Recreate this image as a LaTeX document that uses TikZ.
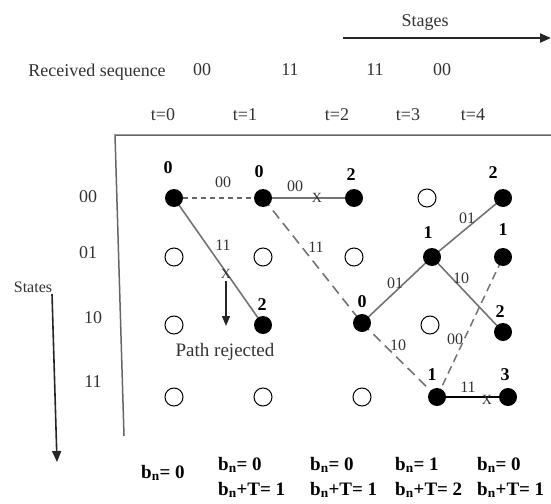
\documentclass[tikz,border=0pt]{standalone}
\usepackage{fontspec}
\setmainfont{Liberation Serif}
\usetikzlibrary{arrows.meta}
\begin{document}
\begin{tikzpicture}[x=1pt,y=-1pt,
  filled/.style={circle,fill=black,minimum size=18pt,inner sep=0pt},
  hollow/.style={circle,draw=black,line width=1pt,minimum size=18pt,inner sep=0pt,fill=white},
  txt/.style={font=\fontsize{18}{20}\selectfont,text=black!80},
  elab/.style={font=\fontsize{16}{18}\selectfont,text=black!80,inner sep=1pt},
  xmark/.style={font=\fontsize{14}{16}\selectfont,text=black!80,inner sep=0pt},
  nlab/.style={font=\bfseries\fontsize{18}{20}\selectfont},
  blab/.style={font=\bfseries\fontsize{19}{21}\selectfont,anchor=west,inner sep=0pt},
  sedge/.style={draw=black!55,line width=1.6pt},
  ldash/.style={draw=black!55,line width=1.6pt,dash pattern=on 10pt off 6pt},
  sdash/.style={draw=black!60,line width=1.3pt,dash pattern=on 5pt off 4pt},
  frame/.style={draw=black!60,line width=1.5pt},
  bigarrow/.style={black!85,line width=2pt,-{Triangle[length=11pt,width=9pt]}}
]
\useasboundingbox (0,0) rectangle (551,503);

% header
\node[txt] (stages) at (425,22) {Stages};
\coordinate (sa) at (343,38);
\coordinate (sb) at (551,38);
\draw[bigarrow] (sa) -- (sb);
\node[txt] (rs) at (97,72) {Received sequence};
\node[txt] (r1) at (202,70) {00};
\node[txt] (r2) at (290,70) {11};
\node[txt] (r3) at (375,70) {11};
\node[txt] (r4) at (442,70) {00};
\node[txt] (t0) at (163,115) {t=0};
\node[txt] (t1) at (245,115) {t=1};
\node[txt] (t2) at (337,115) {t=2};
\node[txt] (t3) at (408,115) {t=3};
\node[txt] (t4) at (473,115) {t=4};

% frame
\coordinate (fa) at (551,135);
\coordinate (fb) at (115,135);
\coordinate (fc) at (124,436);
\draw[frame] (fa) -- (fb) -- (fc);

% state labels
\node[txt] (s00) at (88,197) {00};
\node[txt] (s01) at (88,253) {01};
\node[txt] (s10) at (93,318) {10};
\node[txt] (s11) at (93,382) {11};
\node[txt,font=\fontsize{16}{18}\selectfont] (states) at (33,287) {States};
\coordinate (ta) at (52,294);
\coordinate (tb) at (57,462);
\draw[bigarrow,line width=1.6pt] (ta) -- (tb);

% node coordinates
\coordinate (p00a) at (174,198);
\coordinate (p01a) at (174,257);
\coordinate (p10a) at (174,325);
\coordinate (p11a) at (174,397);
\coordinate (p00b) at (263,198);
\coordinate (p01b) at (263,257);
\coordinate (p10b) at (263,325);
\coordinate (p11b) at (263,397);
\coordinate (p00c) at (354,198);
\coordinate (p01c) at (354,257);
\coordinate (p10c) at (362,323);
\coordinate (p11c) at (362,397);
\coordinate (p00d) at (427,198);
\coordinate (p01d) at (432,257);
\coordinate (p10d) at (430,325);
\coordinate (p11d) at (437,397);
\coordinate (p00e) at (503,198);
\coordinate (p01e) at (503,257);
\coordinate (p10e) at (503,332);
\coordinate (p11e) at (508,397);

% edges
\draw[sdash] (p00a) -- (p00b);
\draw[sedge] (p00a) -- (p10b);
\draw[sedge] (p00b) -- (p00c);
\draw[ldash] (p00b) -- (p10c);
\draw[sedge] (p10c) -- (p01d);
\draw[ldash] (p10c) -- (p11d);
\draw[sedge] (p01d) -- (p00e);
\draw[sedge] (p01d) -- (p10e);
\draw[draw=black!55,line width=1.5pt,dash pattern=on 8pt off 5pt] (p11d) -- (p01e);
\draw[black,line width=1.3pt] (p11d) -- (p11e);

% nodes
\node[filled] (n00a) at (p00a) {};
\node[hollow] (n01a) at (p01a) {};
\node[hollow] (n10a) at (p10a) {};
\node[hollow] (n11a) at (p11a) {};
\node[filled] (n00b) at (p00b) {};
\node[hollow] (n01b) at (p01b) {};
\node[filled] (n10b) at (p10b) {};
\node[hollow] (n11b) at (p11b) {};
\node[filled] (n00c) at (p00c) {};
\node[hollow] (n01c) at (p01c) {};
\node[filled] (n10c) at (p10c) {};
\node[hollow] (n11c) at (p11c) {};
\node[hollow] (n00d) at (p00d) {};
\node[filled] (n01d) at (p01d) {};
\node[hollow] (n10d) at (p10d) {};
\node[filled] (n11d) at (p11d) {};
\node[filled] (n00e) at (p00e) {};
\node[filled] (n01e) at (p01e) {};
\node[filled] (n10e) at (p10e) {};
\node[filled] (n11e) at (p11e) {};

% edge labels
\node[elab] (e1) at (223,182) {00};
\node[elab] (e2) at (223,245) {11};
\node[xmark] (x1) at (226,274) {X};
\node[elab] (e3) at (295,186) {00};
\node[xmark] (x2) at (317,198) {X};
\node[elab] (e4) at (316,247) {11};
\node[elab] (e5) at (395,283) {01};
\node[elab] (e6) at (467,218) {01};
\node[elab] (e7) at (461,278) {10};
\node[elab] (e8) at (398,345) {10};
\node[elab] (e9) at (455,339) {00};
\node[elab] (e10) at (468,387) {11};
\node[xmark] (x3) at (487,400) {X};
\coordinate (ra) at (226,281);
\coordinate (rb) at (226,326);
\draw[black!85,line width=1.3pt,-{Triangle[length=10pt,width=8pt]}] (ra) -- (rb);
\node[txt,font=\fontsize{19}{21}\selectfont] (pr) at (225,352) {Path rejected};

% node values
\node[nlab] (v00a) at (168,168) {0};
\node[nlab] (v00b) at (259,172) {0};
\node[nlab] (v10b) at (262,305) {2};
\node[nlab] (v00c) at (351,175) {2};
\node[nlab] (v10c) at (362,302) {0};
\node[nlab] (v01d) at (428,233) {1};
\node[nlab] (v00e) at (493,173) {2};
\node[nlab] (v01e) at (503,230) {1};
\node[nlab] (v10e) at (500,312) {2};
\node[nlab] (v11d) at (432,375) {1};
\node[nlab] (v11e) at (505,375) {3};

% bottom metrics
\node[blab] (b0) at (141,473) {b\textsubscript{n}= 0};
\node[blab] (b1) at (218,465) {b\textsubscript{n}= 0};
\node[blab] (c1) at (218,490) {b\textsubscript{n}+T= 1};
\node[blab] (b2) at (310,465) {b\textsubscript{n}= 0};
\node[blab] (c2) at (310,490) {b\textsubscript{n}+T= 1};
\node[blab] (b3) at (395,465) {b\textsubscript{n}= 1};
\node[blab] (c3) at (395,490) {b\textsubscript{n}+T= 2};
\node[blab] (b4) at (477,465) {b\textsubscript{n}= 0};
\node[blab] (c4) at (477,490) {b\textsubscript{n}+T= 1};
\end{tikzpicture}
\end{document}
